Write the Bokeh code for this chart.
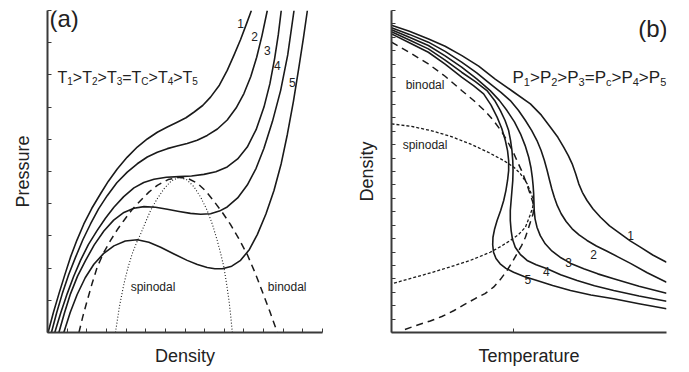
from bokeh.plotting import figure
from bokeh.layouts import row
from bokeh.models import Range1d, FixedTicker, Label
from bokeh.embed import file_html
from bokeh.resources import INLINE

# ---------------- (a) isotherms: pressure vs density ----------------
iso1_rho = [0.03, 0.30, 0.58, 0.88, 1.17, 1.50, 1.85, 2.25, 2.70, 3.10, 3.55, 4.05, 4.57, 5.08,
            5.59, 6.10, 6.60, 7.05, 7.45, 7.90, 8.30, 8.75, 9.15, 9.50, 9.83, 10.12, 10.38]
iso1_p = [0.00, 0.62, 1.20, 1.79, 2.34, 2.87, 3.37, 3.85, 4.31, 4.70, 5.08, 5.44, 5.76, 6.01,
          6.22, 6.38, 6.53, 6.67, 6.84, 7.05, 7.31, 7.68, 8.14, 8.62, 9.10, 9.57, 10.00]

iso2_rho = [0.20, 0.47, 0.75, 1.08, 1.43, 1.80, 2.19, 2.60, 3.04, 3.53, 4.06, 4.57, 5.08, 5.59,
            6.10, 6.60, 7.11, 7.62, 8.13, 8.65, 9.15, 9.60, 10.00, 10.35, 10.65, 10.92, 11.19]
iso2_p = [0.00, 0.62, 1.20, 1.80, 2.34, 2.88, 3.37, 3.84, 4.25, 4.65, 4.98, 5.24, 5.45, 5.60,
          5.71, 5.79, 5.87, 5.97, 6.12, 6.32, 6.60, 6.97, 7.42, 7.95, 8.55, 9.22, 10.00]

iso3_rho = [0.37, 0.68, 1.00, 1.33, 1.68, 2.08, 2.53, 2.95, 3.38, 3.88, 4.40, 4.90, 5.42, 6.05,
            6.69, 7.33, 7.96, 8.57, 9.15, 9.68, 10.17, 10.62, 11.02, 11.32, 11.56, 11.75, 11.90]
iso3_p = [0.00, 0.62, 1.20, 1.74, 2.24, 2.73, 3.17, 3.55, 3.89, 4.22, 4.49, 4.66, 4.76, 4.82,
          4.84, 4.86, 4.91, 4.99, 5.14, 5.39, 5.76, 6.30, 7.00, 7.72, 8.50, 9.25, 10.00]

iso4_rho = [0.58, 0.87, 1.17, 1.53, 1.94, 2.38, 2.87, 3.37, 3.89, 4.40, 4.91, 5.50, 6.10, 6.70,
            7.28, 7.80, 8.30, 8.75, 9.15, 9.68, 10.17, 10.62, 11.02, 11.45, 11.87, 12.23, 12.55]
iso4_p = [0.00, 0.62, 1.20, 1.75, 2.24, 2.72, 3.15, 3.49, 3.73, 3.86, 3.91, 3.89, 3.83, 3.76,
          3.70, 3.67, 3.69, 3.77, 3.90, 4.18, 4.58, 5.10, 5.72, 6.55, 7.52, 8.62, 10.00]

iso5_rho = [0.83, 1.16, 1.51, 1.92, 2.36, 2.85, 3.38, 3.96, 4.57, 5.16, 5.76, 6.44, 7.11, 7.63, 8.13,
            8.52, 8.90, 9.38, 9.83, 10.28, 10.68, 11.12, 11.53, 11.90, 12.21, 12.52, 12.80, 13.03, 13.23]
iso5_p = [0.00, 0.63, 1.18, 1.70, 2.12, 2.45, 2.69, 2.84, 2.88, 2.80, 2.65, 2.44, 2.24, 2.11, 2.02,
          1.98, 1.98, 2.06, 2.24, 2.58, 3.04, 3.68, 4.41, 5.25, 6.15, 7.18, 8.24, 9.15, 10.00]

binodal_a_rho = [1.60, 1.80, 2.02, 2.27, 2.53, 2.86, 3.21, 3.55, 3.89, 4.31, 4.74, 5.16, 5.59, 6.14,
                 6.69, 7.16, 7.62, 8.05, 8.47, 8.90, 9.32, 9.75, 10.17, 10.55, 10.93, 11.32, 11.70]
binodal_a_p = [0.00, 0.50, 0.99, 1.52, 2.03, 2.48, 2.86, 3.19, 3.48, 3.82, 4.10, 4.36, 4.57, 4.75,
               4.82, 4.78, 4.64, 4.40, 4.08, 3.73, 3.35, 2.90, 2.42, 1.88, 1.28, 0.65, 0.00]

spinodal_a_rho = [3.46, 3.66, 3.89, 4.10, 4.31, 4.52, 4.74, 5.00, 5.25, 5.58, 5.93, 6.30, 6.69,
                  7.08, 7.45, 7.80, 8.13, 8.40, 8.64, 8.83, 8.98, 9.12, 9.24, 9.33, 9.41]
spinodal_a_p = [0.00, 0.80, 1.51, 2.02, 2.44, 2.77, 3.06, 3.44, 3.79, 4.15, 4.46, 4.71, 4.82,
                4.75, 4.53, 4.20, 3.79, 3.35, 2.86, 2.42, 2.03, 1.50, 0.99, 0.50, 0.00]

iso_labels = ["1", "2", "3", "4", "5"]
iso_label_rho = [9.83, 10.54, 11.19, 11.70, 12.46]
iso_label_p = [9.61, 9.19, 8.77, 8.29, 7.77]

# ---------------- (b) isobars: density vs temperature ----------------
bar1_t = [0.0, 0.65, 1.35, 1.95, 2.56, 3.17, 3.77, 4.40, 5.05, 5.45, 5.78, 6.05, 6.26, 6.43,
          6.57, 6.70, 6.81, 6.94, 7.11, 7.33, 7.60, 7.93, 8.33, 8.68, 9.05, 9.50, 10.0]
bar1_rho = [22.90, 22.45, 21.88, 21.33, 20.64, 19.85, 18.89, 17.98, 17.04, 16.20, 15.30, 14.55, 13.81, 13.18,
            12.57, 11.82, 11.08, 10.45, 9.84, 9.20, 8.59, 7.95, 7.35, 6.83, 6.36, 5.78, 5.24]

bar2_t = [0.0, 0.65, 1.34, 1.95, 2.55, 3.10, 3.59, 3.98, 4.32, 4.62, 4.87, 5.10, 5.29, 5.44, 5.56, 5.66,
          5.75, 5.83, 5.92, 6.03, 6.17, 6.35, 6.57, 6.82, 7.11, 7.45, 7.84, 8.25, 8.69, 9.30, 10.0]
bar2_rho = [22.71, 22.22, 21.64, 20.95, 20.15, 19.35, 18.53, 17.90, 17.29, 16.55, 15.80, 15.05, 14.31, 13.56, 12.82, 12.07,
            11.33, 10.70, 10.08, 9.45, 8.85, 8.27, 7.73, 7.27, 6.86, 6.45, 6.06, 5.62, 5.15, 4.45, 3.75]

bar3_t = [0.0, 0.65, 1.34, 1.95, 2.55, 3.10, 3.59, 3.92, 4.20, 4.47, 4.69, 4.86, 4.99, 5.07, 5.12, 5.15,
          5.17, 5.18, 5.19, 5.22, 5.29, 5.41, 5.59, 5.83, 6.13, 6.52, 6.99, 7.50, 8.08, 9.00, 10.0]
bar3_rho = [22.56, 22.01, 21.39, 20.62, 19.78, 18.90, 18.03, 17.30, 16.54, 15.70, 14.81, 13.93, 13.06, 12.30, 11.57, 10.95,
            10.33, 9.70, 9.09, 8.47, 7.85, 7.22, 6.61, 6.08, 5.61, 5.15, 4.75, 4.37, 4.00, 3.45, 2.93]

bar4_t = [0.0, 0.65, 1.34, 1.95, 2.55, 3.05, 3.47, 3.75, 3.96, 4.13, 4.26, 4.33, 4.38, 4.41, 4.42, 4.41, 4.38,
          4.35, 4.32, 4.32, 4.35, 4.40, 4.50, 4.68, 4.93, 5.26, 5.66, 6.15, 6.75, 7.38, 8.08, 9.00, 10.0]
bar4_rho = [22.41, 21.80, 21.14, 20.30, 19.40, 18.70, 18.03, 17.30, 16.54, 15.80, 15.05, 14.30, 13.56, 12.80, 12.07, 11.32, 10.58,
            9.84, 9.09, 8.35, 7.60, 6.95, 6.36, 5.83, 5.37, 5.05, 4.75, 4.30, 3.87, 3.48, 3.13, 2.72, 2.33]

bar5_t = [0.0, 0.65, 1.34, 1.95, 2.55, 2.98, 3.35, 3.62, 3.84, 4.01, 4.14, 4.22, 4.26, 4.26, 4.22, 4.16, 4.08, 3.97,
          3.84, 3.75, 3.69, 3.68, 3.71, 3.80, 3.95, 4.16, 4.44, 4.82, 5.29, 5.86, 6.51, 7.25, 8.08, 9.00, 10.0]
bar5_rho = [22.26, 21.60, 20.89, 20.00, 19.03, 18.40, 17.79, 16.95, 16.05, 15.20, 14.31, 13.56, 12.82, 12.07, 11.33, 10.58, 9.84, 9.10,
            8.35, 7.72, 7.10, 6.54, 5.98, 5.52, 5.12, 4.78, 4.49, 4.17, 3.87, 3.50, 3.13, 2.80, 2.51, 2.14, 1.77]

binodal_b_t = [0.0, 0.65, 1.34, 1.95, 2.55, 2.99, 3.38, 3.71, 3.98, 4.20, 4.40, 4.56, 4.73, 4.87, 4.98, 5.07, 5.14, 5.17,
               5.15, 5.07, 4.97, 4.87, 4.73, 4.56, 4.39, 4.20, 3.97, 3.71, 3.40, 3.06, 2.66, 2.26, 1.83, 1.41, 0.98, 0.38]
binodal_b_rho = [21.64, 20.88, 20.02, 19.10, 18.04, 17.29, 16.55, 15.80, 15.05, 14.31, 13.56, 12.82, 12.07, 11.33, 10.70, 10.15, 9.70, 9.30,
                 8.85, 8.35, 7.72, 7.10, 6.48, 5.86, 5.24, 4.62, 3.98, 3.38, 2.90, 2.55, 2.09, 1.62, 1.19, 0.86, 0.58, 0.15]

spinodal_b_t = [0.0, 0.73, 1.43, 2.15, 2.86, 3.50, 4.08, 4.45, 4.69, 4.93, 5.06, 5.13, 5.16, 5.13, 5.03,
                4.87, 4.62, 4.32, 3.98, 3.59, 2.86, 2.15, 1.43, 0.70, 0.0]
spinodal_b_rho = [15.55, 15.36, 15.05, 14.62, 14.06, 13.45, 12.82, 12.32, 11.83, 11.10, 10.45, 10.05, 9.70, 9.30, 8.70,
                  7.85, 7.30, 6.86, 6.42, 5.98, 5.37, 4.90, 4.45, 4.03, 3.63]

bar_labels = ["1", "2", "3", "4", "5"]
bar_label_t = [8.69, 7.35, 6.44, 5.63, 4.96]
bar_label_rho = [7.20, 5.80, 5.20, 4.53, 3.98]

FONT = "Liberation Sans"
INK = "#1a1a1a"
TEXT = "#222222"
AXIS = "#3a3a3a"

# Arial/Helvetica advance widths (em) for the inequality strings
ADV = {"T": 0.611, "P": 0.667, ">": 0.584, "=": 0.584, "C": 0.722, "c": 0.5,
       "1": 0.556, "2": 0.556, "3": 0.556, "4": 0.556, "5": 0.556}


def make_fig(xmax, ymax, xticks, yticks, xlabel, ylabel, width, left, right):
    p = figure(width=width, height=372, output_backend="svg", toolbar_location=None,
               x_range=Range1d(0, xmax), y_range=Range1d(0, ymax),
               min_border_left=left, min_border_right=right,
               min_border_top=10, min_border_bottom=40)
    p.outline_line_color = None
    p.xgrid.visible = False
    p.ygrid.visible = False
    p.xaxis.ticker = FixedTicker(ticks=xticks)
    p.yaxis.ticker = FixedTicker(ticks=yticks)
    for ax in (p.xaxis, p.yaxis):
        ax.axis_line_width = 2
        ax.axis_line_color = AXIS
        ax.major_tick_in = 4
        ax.major_tick_out = 0
        ax.major_tick_line_color = AXIS
        ax.major_tick_line_width = 1
        ax.minor_tick_line_color = None
        # unlabeled ticks: the tick texts are not drawn at all
        ax.major_label_text_color = None
        ax.major_label_text_font_size = "1px"
        ax.major_label_standoff = 0
        ax.axis_label_text_font = FONT
        ax.axis_label_text_font_size = "18px"
        ax.axis_label_text_font_style = "normal"
        ax.axis_label_text_color = TEXT
    p.xaxis.axis_label = xlabel
    p.yaxis.axis_label = ylabel
    p.xaxis.axis_label_standoff = 13
    p.yaxis.axis_label_standoff = 15
    return p


def rich_label(p, x, y, parts, size_main, size_sub, sub_drop):
    # parts: list of (text, is_subscript); laid out left to right with pixel offsets
    dx = 0.0
    for txt, sub in parts:
        size = size_sub if sub else size_main
        p.add_layout(Label(x=x, y=y, x_offset=dx, y_offset=-sub_drop if sub else 0,
                           text=txt, text_font=FONT, text_font_size=f"{size}px",
                           text_color=TEXT, text_baseline="alphabetic", text_align="left"))
        dx += sum(ADV[c] for c in txt) * size


def curve_labels(p, xs, ys, texts):
    for x, y, t in zip(xs, ys, texts):
        p.add_layout(Label(x=x, y=y, text=t, text_font=FONT, text_font_size="12px",
                           text_color=TEXT, text_align="center", text_baseline="middle"))


def plain(p, x, y, t, size, align="center", baseline="middle"):
    p.add_layout(Label(x=x, y=y, text=t, text_font=FONT, text_font_size=f"{size}px",
                       text_color=TEXT, text_align=align, text_baseline=baseline))


# ---- panel (a)
pa = make_fig(14, 10, list(range(15)), list(range(11)), "Density", "Pressure", 345, 47, 23)
for xs, ys in [(iso1_rho, iso1_p), (iso2_rho, iso2_p), (iso3_rho, iso3_p),
               (iso4_rho, iso4_p), (iso5_rho, iso5_p)]:
    pa.line(xs, ys, line_color=INK, line_width=1.6, line_join="round")
pa.line(binodal_a_rho, binodal_a_p, line_color=INK, line_width=1.5, line_dash="7 5")
pa.line(spinodal_a_rho, spinodal_a_p, line_color=INK, line_width=1.1, line_dash="1 2")
curve_labels(pa, iso_label_rho, iso_label_p, iso_labels)
plain(pa, 5.37, 1.41, "spinodal", 12)
plain(pa, 12.2, 1.41, "binodal", 12)
plain(pa, 0.1, 9.75, "(a)", 24, align="left", baseline="alphabetic")
rich_label(pa, 0.51, 7.92,
           [("T", False), ("1", True), (">T", False), ("2", True), (">T", False), ("3", True),
            ("=T", False), ("C", True), (">T", False), ("4", True), (">T", False), ("5", True)],
           16, 10, 4)

# ---- panel (b)
pb = make_fig(10, 24, [4.45], list(range(25)), "Temperature", "Density", 344, 46, 23)
for xs, ys in [(bar1_t, bar1_rho), (bar2_t, bar2_rho), (bar3_t, bar3_rho),
               (bar4_t, bar4_rho), (bar5_t, bar5_rho)]:
    pb.line(xs, ys, line_color=INK, line_width=1.6, line_join="round")
pb.line(binodal_b_t, binodal_b_rho, line_color=INK, line_width=1.5, line_dash="7 5")
pb.line(spinodal_b_t, spinodal_b_rho, line_color=INK, line_width=1.3, line_dash="3 2")
curve_labels(pb, bar_label_t, bar_label_rho, bar_labels)
plain(pb, 1.22, 18.41, "binodal", 12)
plain(pb, 1.22, 13.94, "spinodal", 12)
plain(pb, 10.04, 22.65, "(b)", 24, align="right", baseline="alphabetic")
rich_label(pb, 4.40, 19.0,
           [("P", False), ("1", True), (">P", False), ("2", True), (">P", False), ("3", True),
            ("=P", False), ("c", True), (">P", False), ("4", True), (">P", False), ("5", True)],
           17, 11, 4)

layout = row(pa, pb, spacing=0)
open("out.html", "w").write(file_html(layout, INLINE))
